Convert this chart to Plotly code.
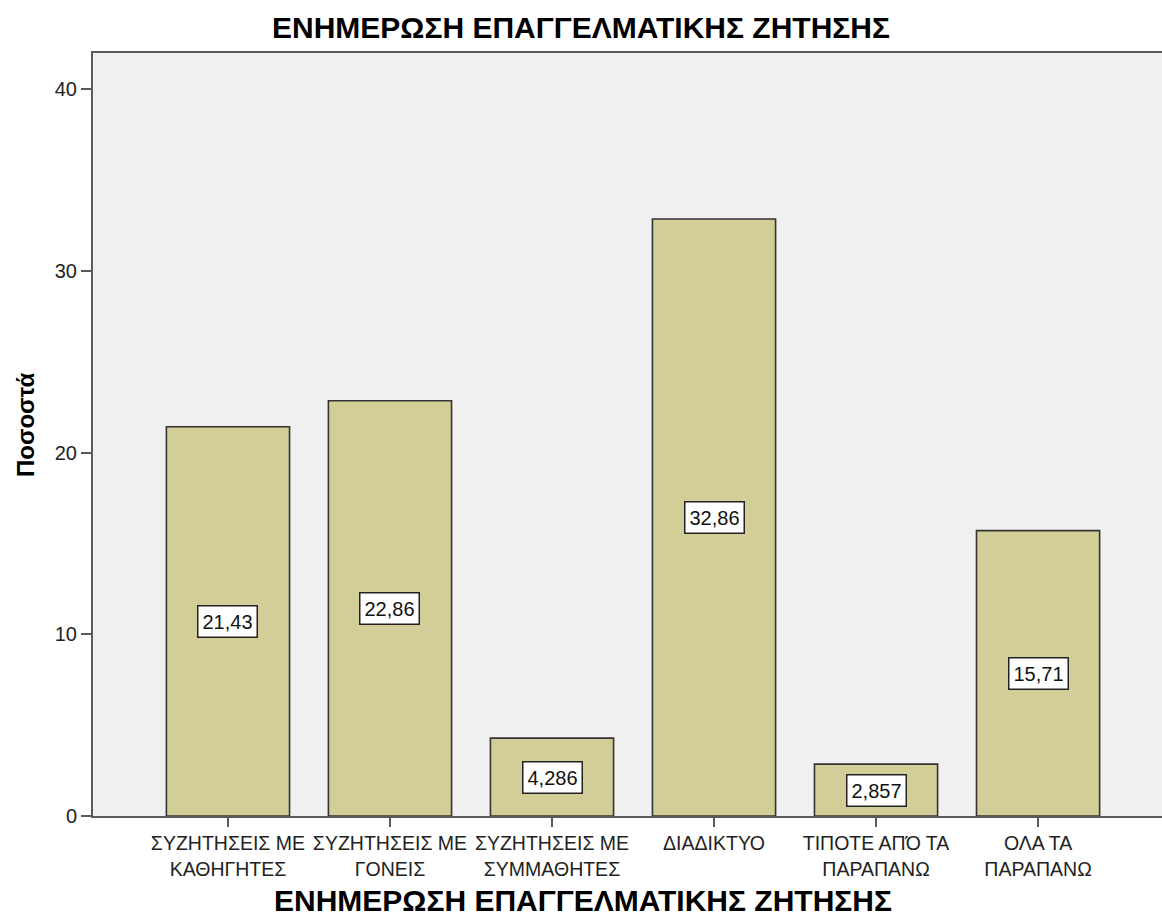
# -*- coding: utf-8 -*-
"""
ΕΝΗΜΕΡΩΣΗ ΕΠΑΓΓΕΛΜΑΤΙΚΗΣ ΖΗΤΗΣΗΣ — SPSS-style bar chart, rebuilt in Plotly
"""

import plotly.graph_objects as go

# ============ data ============
categories = [
    'ΣΥΖΗΤΗΣΕΙΣ ΜΕ<br>ΚΑΘΗΓΗΤΕΣ',
    'ΣΥΖΗΤΗΣΕΙΣ ΜΕ<br>ΓΟΝΕΙΣ',
    'ΣΥΖΗΤΗΣΕΙΣ ΜΕ<br>ΣΥΜΜΑΘΗΤΕΣ',
    'ΔΙΑΔΙΚΤΥΟ',
    'ΤΙΠΟΤΕ ΑΠΌ ΤΑ<br>ΠΑΡΑΠΑΝΩ',
    'ΟΛΑ ΤΑ<br>ΠΑΡΑΠΑΝΩ',
]
percentages = [21.43, 22.86, 4.286, 32.86, 2.857, 15.71]
y_ticks = [0, 10, 20, 30, 40]

TITLE = 'ΕΝΗΜΕΡΩΣΗ ΕΠΑΓΓΕΛΜΑΤΙΚΗΣ ΖΗΤΗΣΗΣ'
Y_TITLE = 'Ποσοστά'

# ============ style ============
FONT = 'Liberation Sans, Arial, sans-serif'
BAR_FILL = '#d3ce98'
BAR_LINE = '#333333'
PLOT_BG = '#f0f0f0'
AXIS_C = '#5a5a5a'

W, H = 1162, 918
M_L, M_R, M_T, M_B = 93, 0, 53, 102


def fmt(v):
    # SPSS prints 4 significant digits with a decimal comma
    return f'{v:.4g}'.replace('.', ',')


fig = go.Figure()

fig.add_trace(go.Bar(
    x=list(range(len(categories))), y=percentages,
    marker=dict(color=BAR_FILL, line=dict(color=BAR_LINE, width=1.6)),
    width=0.76,
    showlegend=False,
    hoverinfo='skip',
))

# value boxes in the middle of each bar
for i, v in enumerate(percentages):
    fig.add_annotation(
        x=i, y=v / 2, xref='x', yref='y',
        text=fmt(v), showarrow=False,
        font=dict(family=FONT, size=20, color='#111111'),
        bgcolor='white', bordercolor='#222222', borderwidth=1.5, borderpad=4,
    )

plot_h = H - M_T - M_B
plot_w = W - M_L - M_R

# x axis title (below the category labels)
fig.add_annotation(
    x=(583 - M_L) / plot_w, y=(H - M_B - 900) / plot_h,
    xref='paper', yref='paper', xanchor='center', yanchor='middle',
    text=f'<b>{TITLE}</b>', showarrow=False,
    font=dict(family=FONT, size=30, color='black'),
)
# y axis title
fig.add_annotation(
    x=(25 - M_L) / plot_w, y=(H - M_B - 425) / plot_h,
    xref='paper', yref='paper', xanchor='center', yanchor='middle',
    text=f'<b>{Y_TITLE}</b>', textangle=-90, showarrow=False,
    font=dict(family=FONT, size=24, color='black'),
)

fig.update_layout(
    width=W, height=H,
    paper_bgcolor='white',
    plot_bgcolor=PLOT_BG,
    font=dict(family=FONT, color='#222222', size=19),
    title=dict(
        text=f'<b>{TITLE}</b>', x=0.5, xref='container', xanchor='center',
        y=1 - 27 / H, yanchor='middle',
        font=dict(family=FONT, size=30, color='black'),
    ),
    margin=dict(l=M_L, r=M_R, t=M_T, b=M_B),
    bargap=0.24,
)

fig.update_xaxes(
    range=[-0.833, 5.765],
    tickmode='array', tickvals=list(range(len(categories))), ticktext=categories,
    tickangle=0,
    ticks='outside', ticklen=9, tickwidth=2, tickcolor=AXIS_C,
    showline=True, linecolor=AXIS_C, linewidth=2, mirror=True,
    showgrid=False, zeroline=False,
    tickfont=dict(family=FONT, size=19.5, color='#222222'),
)
fig.update_yaxes(
    range=[0, 42],
    tickmode='array', tickvals=y_ticks,
    ticks='outside', ticklen=10, tickwidth=2, tickcolor=AXIS_C,
    showline=True, linecolor=AXIS_C, linewidth=2,
    showgrid=False, zeroline=False,
    tickfont=dict(family=FONT, size=20, color='#222222'),
)

# page body has an 8px default margin; drop it so the figure fills the window
fig.write_html(
    'out.html',
    config={'displayModeBar': False},
    post_script="document.body.style.margin='0';",
)
